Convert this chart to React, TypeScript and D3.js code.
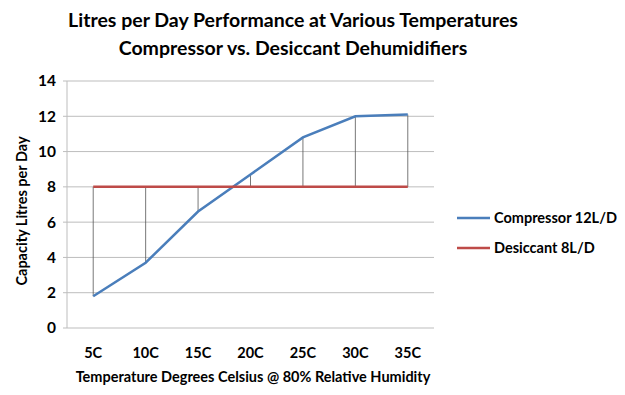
import React, { useEffect, useRef } from 'react';
import * as d3 from 'd3';

const categories = ['5C', '10C', '15C', '20C', '25C', '30C', '35C'];
const compressor = [1.8, 3.7, 6.6, 8.7, 10.8, 12.0, 12.1];
const desiccant = [8, 8, 8, 8, 8, 8, 8];
const yTicks = [0, 2, 4, 6, 8, 10, 12, 14];
const seriesNames = ['Compressor 12L/D', 'Desiccant 8L/D'];
const seriesColors = ['#4a7ebb', '#be4b48'];

export default function App() {
  const svgRef = useRef<SVGSVGElement>(null);

  useEffect(() => {
    const svg = d3.select(svgRef.current);
    svg.selectAll('*').remove();

    const font = 'Lato, "Open Sans", sans-serif';
    const left = 67, right = 434, top = 81, bottom = 328;

    svg.append('rect').attr('width', 625).attr('height', 395).attr('fill', '#fff');

    // Title
    const title = svg.append('text')
      .attr('text-anchor', 'middle')
      .attr('font-family', font)
      .attr('font-weight', 'bold')
      .attr('font-size', 19.5)
      .attr('fill', '#000');
    title.append('tspan').attr('x', 293).attr('y', 27).text('Litres per Day Performance at Various Temperatures');
    title.append('tspan').attr('x', 293).attr('y', 55).text('Compressor vs. Desiccant Dehumidifiers');

    const x = d3.scaleBand().domain(categories).range([left, right]);
    const y = d3.scaleLinear().domain([0, 14]).range([bottom, top]);
    const cx = (c: string) => (x(c) as number) + x.bandwidth() / 2;

    // Gridlines
    svg.append('g').selectAll('line').data(yTicks).enter().append('line')
      .attr('x1', left - 4).attr('x2', right)
      .attr('y1', d => y(d)).attr('y2', d => y(d))
      .attr('stroke', '#bdbdbd').attr('stroke-width', 1);

    // Y axis line
    svg.append('line')
      .attr('x1', left).attr('x2', left).attr('y1', top).attr('y2', bottom)
      .attr('stroke', '#bdbdbd');

    // Y tick labels
    svg.append('g').selectAll('text').data(yTicks).enter().append('text')
      .attr('x', 56).attr('y', d => y(d)).attr('dy', '0.35em')
      .attr('text-anchor', 'end')
      .attr('font-family', font).attr('font-weight', 'bold').attr('font-size', 15.5)
      .text(d => d);

    // X tick labels
    svg.append('g').selectAll('text').data(categories).enter().append('text')
      .attr('x', d => cx(d)).attr('y', 358)
      .attr('text-anchor', 'middle')
      .attr('font-family', font).attr('font-weight', 'bold').attr('font-size', 14.5)
      .text(d => d);

    // Axis titles
    svg.append('text')
      .attr('x', 253).attr('y', 382)
      .attr('text-anchor', 'middle')
      .attr('font-family', font).attr('font-weight', 'bold').attr('font-size', 14.5)
      .text('Temperature Degrees Celsius @ 80% Relative Humidity');

    svg.append('text')
      .attr('transform', 'translate(27,211) rotate(-90)')
      .attr('text-anchor', 'middle')
      .attr('font-family', font).attr('font-weight', 'bold').attr('font-size', 14.5)
      .text('Capacity Litres per Day');

    // High-low lines
    svg.append('g').selectAll('line').data(categories).enter().append('line')
      .attr('x1', d => cx(d)).attr('x2', d => cx(d))
      .attr('y1', (d, i) => y(compressor[i])).attr('y2', (d, i) => y(desiccant[i]))
      .attr('stroke', '#555').attr('stroke-width', 0.8);

    const line = d3.line<number>()
      .x((d, i) => cx(categories[i]))
      .y(d => y(d));

    [compressor, desiccant].forEach((s, k) => {
      svg.append('path')
        .attr('d', line(s))
        .attr('fill', 'none')
        .attr('stroke', seriesColors[k])
        .attr('stroke-width', 2.5);
    });

    // Legend
    const legendY = [218, 248];
    seriesNames.forEach((name, k) => {
      svg.append('line')
        .attr('x1', 457).attr('x2', 490)
        .attr('y1', legendY[k]).attr('y2', legendY[k])
        .attr('stroke', seriesColors[k]).attr('stroke-width', 2.5);
      svg.append('text')
        .attr('x', 494).attr('y', legendY[k]).attr('dy', '0.35em')
        .attr('font-family', font).attr('font-weight', 'bold').attr('font-size', 14.5)
        .text(name);
    });
  }, []);

  return (
    <div style={{ margin: -8 }}>
      <svg ref={svgRef} width={625} height={395} style={{ display: 'block' }}></svg>
    </div>
  );
}
